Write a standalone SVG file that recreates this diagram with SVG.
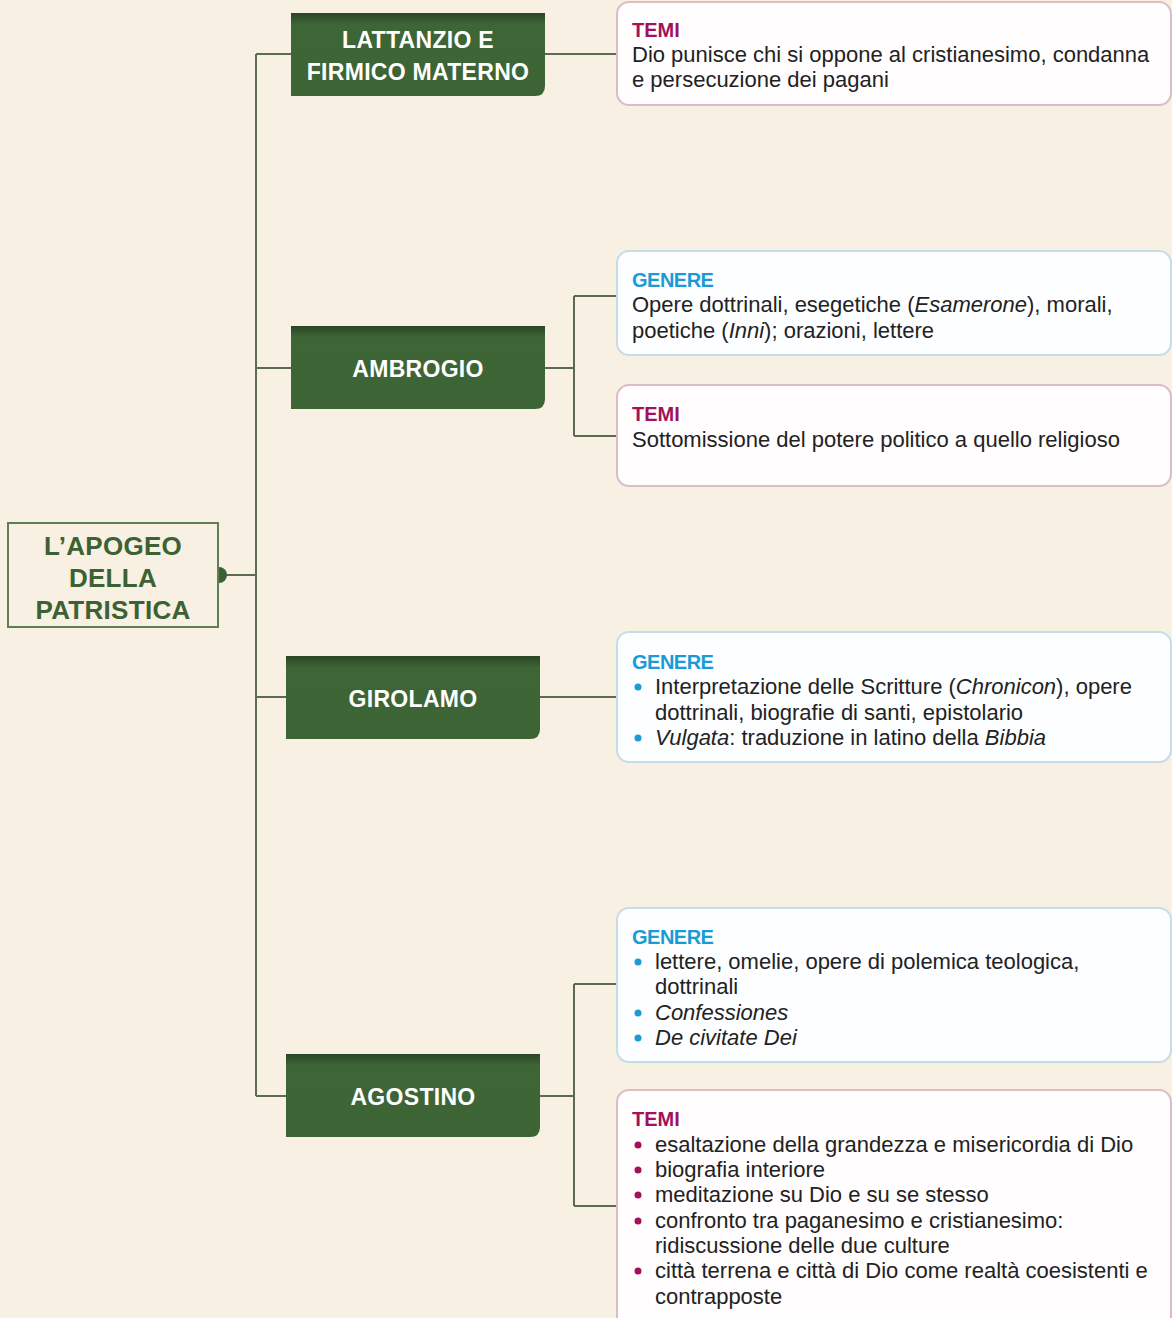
<svg xmlns="http://www.w3.org/2000/svg" width="1172" height="1318" viewBox="0 0 1172 1318">
<style>
.bg{fill:#f7f0e3}
.conn{fill:none;stroke:#5c6d4f;stroke-width:2}
.node{fill:url(#ng)}
.ntxt{font-family:"Liberation Sans",Arial,sans-serif;font-weight:bold;font-size:23px;fill:#ffffff;text-anchor:middle;letter-spacing:0.3px}
.root{fill:#f7f0e3;stroke:#5f7f52;stroke-width:2}
.rtxt{font-family:"Liberation Sans",Arial,sans-serif;font-weight:bold;font-size:26px;fill:#3c6132;text-anchor:middle;letter-spacing:0.3px}
.btemi{fill:#fffdfd;stroke:#dcbcc6;stroke-width:2}
.bgen{fill:#fdfeff;stroke:#c6dde7;stroke-width:2}
.htemi{font-family:"Liberation Sans",Arial,sans-serif;font-weight:bold;font-size:20px;fill:#a1115c}
.hgen{font-family:"Liberation Sans",Arial,sans-serif;font-weight:bold;font-size:20px;fill:#1a9bd7;letter-spacing:-0.5px}
.t{font-family:"Liberation Sans",Arial,sans-serif;font-size:22px;fill:#222222}
.i{font-style:italic}
.dm{fill:#a1115c}
.db{fill:#1a9bd7}
</style>
<defs>
<linearGradient id="ng" x1="0" y1="0" x2="0" y2="1">
<stop offset="0" stop-color="#2a4525"/>
<stop offset="0.14" stop-color="#3e6535"/>
<stop offset="1" stop-color="#3d6434"/>
</linearGradient>
</defs>
<rect class="bg" x="0" y="0" width="1172" height="1318"/>

<g id="connectors">
<path class="conn" d="M226,575 H256 M256,54 V1096 M256,54 H291 M256,368 H291 M256,697 H286 M256,1096 H286"/>
<path class="conn" d="M545,54 H617"/>
<path class="conn" d="M545,368 H574 M574,296 V436 M574,296 H617 M574,436 H617"/>
<path class="conn" d="M540,697 H617"/>
<path class="conn" d="M540,1096 H574 M574,984 V1206 M574,984 H617 M574,1206 H617"/>
</g>

<g id="root">
<rect class="root" x="8" y="523" width="210" height="104"/>
<path d="M219,567 A8,8 0 0 1 219,583 Z" fill="#3c6132"/>
<text class="rtxt" x="113" y="555">L’APOGEO</text>
<text class="rtxt" x="113" y="587">DELLA</text>
<text class="rtxt" x="113" y="619">PATRISTICA</text>
</g>

<g id="n-lattanzio">
<path class="node" d="M291,13 H545 V86 Q545,96 535,96 H291 Z"/>
<text class="ntxt" x="418" y="48">LATTANZIO E</text>
<text class="ntxt" x="418" y="80">FIRMICO MATERNO</text>
</g>
<g id="n-ambrogio">
<path class="node" d="M291,326 H545 V399 Q545,409 535,409 H291 Z"/>
<text class="ntxt" x="418" y="377">AMBROGIO</text>
</g>
<g id="n-girolamo">
<path class="node" d="M286,656 H540 V729 Q540,739 530,739 H286 Z"/>
<text class="ntxt" x="413" y="707">GIROLAMO</text>
</g>
<g id="n-agostino">
<path class="node" d="M286,1054 H540 V1127 Q540,1137 530,1137 H286 Z"/>
<text class="ntxt" x="413" y="1105">AGOSTINO</text>
</g>

<g id="b-lattanzio-temi">
<rect class="btemi" x="617" y="2" width="554" height="103" rx="12"/>
<text class="htemi" x="632" y="37">TEMI</text>
<text class="t" x="632" y="62">Dio punisce chi si oppone al cristianesimo, condanna</text>
<text class="t" x="632" y="87">e persecuzione dei pagani</text>
</g>

<g id="b-ambrogio-genere">
<rect class="bgen" x="617" y="251" width="554" height="104" rx="12"/>
<text class="hgen" x="632" y="287">GENERE</text>
<text class="t" x="632" y="312">Opere dottrinali, esegetiche (<tspan class="i">Esamerone</tspan>), morali,</text>
<text class="t" x="632" y="338">poetiche (<tspan class="i">Inni</tspan>); orazioni, lettere</text>
</g>

<g id="b-ambrogio-temi">
<rect class="btemi" x="617" y="385" width="554" height="101" rx="12"/>
<text class="htemi" x="632" y="421">TEMI</text>
<text class="t" x="632" y="447">Sottomissione del potere politico a quello religioso</text>
</g>

<g id="b-girolamo-genere">
<rect class="bgen" x="617" y="632" width="554" height="130" rx="12"/>
<text class="hgen" x="632" y="669">GENERE</text>
<circle class="db" cx="638" cy="687" r="3.5"/>
<text class="t" x="655" y="694">Interpretazione delle Scritture (<tspan class="i">Chronicon</tspan>), opere</text>
<text class="t" x="655" y="720">dottrinali, biografie di santi, epistolario</text>
<circle class="db" cx="638" cy="738" r="3.5"/>
<text class="t" x="655" y="745"><tspan class="i">Vulgata</tspan>: traduzione in latino della <tspan class="i">Bibbia</tspan></text>
</g>

<g id="b-agostino-genere">
<rect class="bgen" x="617" y="908" width="554" height="154" rx="12"/>
<text class="hgen" x="632" y="944">GENERE</text>
<circle class="db" cx="638" cy="962" r="3.5"/>
<text class="t" x="655" y="969">lettere, omelie, opere di polemica teologica,</text>
<text class="t" x="655" y="994">dottrinali</text>
<circle class="db" cx="638" cy="1013" r="3.5"/>
<text class="t i" x="655" y="1020">Confessiones</text>
<circle class="db" cx="638" cy="1038" r="3.5"/>
<text class="t i" x="655" y="1045">De civitate Dei</text>
</g>

<g id="b-agostino-temi">
<rect class="btemi" x="617" y="1090" width="554" height="240" rx="12"/>
<text class="htemi" x="632" y="1126">TEMI</text>
<circle class="dm" cx="638" cy="1145" r="3.5"/>
<text class="t" x="655" y="1152">esaltazione della grandezza e misericordia di Dio</text>
<circle class="dm" cx="638" cy="1170" r="3.5"/>
<text class="t" x="655" y="1177">biografia interiore</text>
<circle class="dm" cx="638" cy="1195" r="3.5"/>
<text class="t" x="655" y="1202">meditazione su Dio e su se stesso</text>
<circle class="dm" cx="638" cy="1221" r="3.5"/>
<text class="t" x="655" y="1228">confronto tra paganesimo e cristianesimo:</text>
<text class="t" x="655" y="1253">ridiscussione delle due culture</text>
<circle class="dm" cx="638" cy="1271" r="3.5"/>
<text class="t" x="655" y="1278">città terrena e città di Dio come realtà coesistenti e</text>
<text class="t" x="655" y="1304">contrapposte</text>
</g>
</svg>
